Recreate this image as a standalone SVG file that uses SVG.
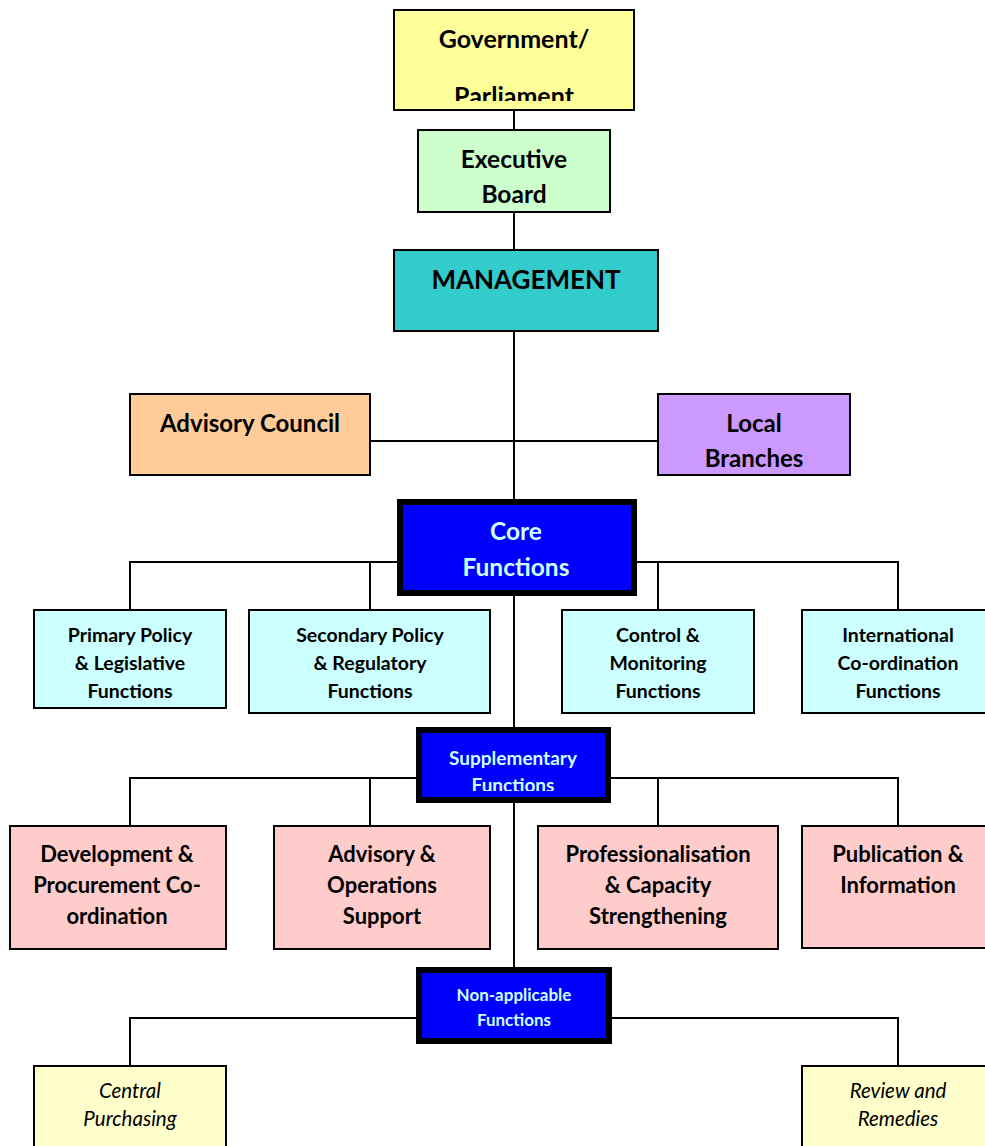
<svg xmlns="http://www.w3.org/2000/svg" width="985" height="1146" viewBox="0 0 985 1146">
<style>
.box{stroke:#000;stroke-width:2}
.thick{stroke:#000;stroke-width:6}
text{font-family:Lato,"Noto Sans","Liberation Sans",sans-serif;font-weight:bold;text-anchor:middle;dominant-baseline:central;fill:#000}
.w{fill:#CCFFFF}
.i{font-style:italic;font-weight:normal}
.c{stroke:#000;stroke-width:2;fill:none}
</style>
<defs>
<clipPath id="cg"><rect x="394" y="10" width="240" height="91"/></clipPath>
<clipPath id="cs"><rect x="420" y="731" width="187" height="60"/></clipPath>
</defs>
<rect width="985" height="1146" fill="#fff"/>
<g id="connectors">
<path class="c" d="M514 110V130M514 212V250M514 331V500M370 441H658"/>
<path class="c" d="M130 610V562H898V610M370 562V610M658 562V610M514 595V728"/>
<path class="c" d="M130 826V778H898V826M370 778V826M658 778V826M514 802V968"/>
<path class="c" d="M130 1066V1018H898V1066"/>
</g>
<g id="government">
<rect class="box" x="394" y="10" width="240" height="100" fill="#FFFF99"/>
<g clip-path="url(#cg)" font-size="25"><text x="514" y="38">Government/</text><text x="514" y="95">Parliament</text></g>
</g>
<g id="executive">
<rect class="box" x="418" y="130" width="192" height="82" fill="#CCFFCC"/>
<text x="514" y="158" font-size="24.5">Executive</text><text x="514" y="193" font-size="24.5">Board</text>
</g>
<g id="management">
<rect class="box" x="394" y="250" width="264" height="81" fill="#33CCCC"/>
<text x="526" y="279" font-size="26">MANAGEMENT</text>
</g>
<g id="advisory-council">
<rect class="box" x="130" y="394" width="240" height="81" fill="#FFCC99"/>
<text x="250" y="422" font-size="24">Advisory Council</text>
</g>
<g id="local-branches">
<rect class="box" x="658" y="394" width="192" height="81" fill="#CC99FF"/>
<text x="754" y="422" font-size="24">Local</text><text x="754" y="457" font-size="24">Branches</text>
</g>
<g id="core">
<rect class="thick" x="400" y="502" width="234" height="91" fill="#0000FF"/>
<text class="w" x="516" y="530" font-size="24.5">Core</text><text class="w" x="516" y="566" font-size="24.5">Functions</text>
</g>
<g id="primary" font-size="19.5">
<rect class="box" x="34" y="610" width="192" height="98" fill="#CCFFFF"/>
<text x="130" y="634">Primary Policy</text><text x="130" y="662">&amp; Legislative</text><text x="130" y="690">Functions</text>
</g>
<g id="secondary" font-size="19.5">
<rect class="box" x="249" y="610" width="241" height="103" fill="#CCFFFF"/>
<text x="370" y="634">Secondary Policy</text><text x="370" y="662">&amp; Regulatory</text><text x="370" y="690">Functions</text>
</g>
<g id="control" font-size="19.5">
<rect class="box" x="562" y="610" width="192" height="103" fill="#CCFFFF"/>
<text x="658" y="634">Control &amp;</text><text x="658" y="662">Monitoring</text><text x="658" y="690">Functions</text>
</g>
<g id="international" font-size="19.5">
<rect class="box" x="802" y="610" width="190" height="103" fill="#CCFFFF"/>
<text x="898" y="634">International</text><text x="898" y="662">Co-ordination</text><text x="898" y="690">Functions</text>
</g>
<g id="supplementary">
<rect class="thick" x="419" y="730" width="189" height="70" fill="#0000FF"/>
<g clip-path="url(#cs)" font-size="19"><text class="w" x="513" y="757">Supplementary</text><text class="w" x="513" y="784">Functions</text></g>
</g>
<g id="development" font-size="22">
<rect class="box" x="10" y="826" width="216" height="123" fill="#FFCCCC"/>
<text x="117" y="853">Development &amp;</text><text x="117" y="884">Procurement Co-</text><text x="117" y="915">ordination</text>
</g>
<g id="advisory-ops" font-size="22">
<rect class="box" x="274" y="826" width="216" height="123" fill="#FFCCCC"/>
<text x="382" y="853">Advisory &amp;</text><text x="382" y="884">Operations</text><text x="382" y="915">Support</text>
</g>
<g id="professionalisation" font-size="22">
<rect class="box" x="538" y="826" width="240" height="123" fill="#FFCCCC"/>
<text x="658" y="853">Professionalisation</text><text x="658" y="884">&amp; Capacity</text><text x="658" y="915">Strengthening</text>
</g>
<g id="publication" font-size="22">
<rect class="box" x="802" y="826" width="190" height="122" fill="#FFCCCC"/>
<text x="898" y="853">Publication &amp;</text><text x="898" y="884">Information</text>
</g>
<g id="non-applicable">
<rect class="thick" x="419" y="970" width="190" height="71" fill="#0000FF"/>
<text class="w" x="514" y="994" font-size="17">Non-applicable</text><text class="w" x="514" y="1019" font-size="17">Functions</text>
</g>
<g id="central" font-size="20.5">
<rect class="box" x="34" y="1066" width="192" height="90" fill="#FFFFCC"/>
<text class="i" x="130" y="1090">Central</text><text class="i" x="130" y="1118">Purchasing</text>
</g>
<g id="review" font-size="20.5">
<rect class="box" x="802" y="1066" width="190" height="90" fill="#FFFFCC"/>
<text class="i" x="898" y="1090">Review and</text><text class="i" x="898" y="1118">Remedies</text>
</g>
</svg>
